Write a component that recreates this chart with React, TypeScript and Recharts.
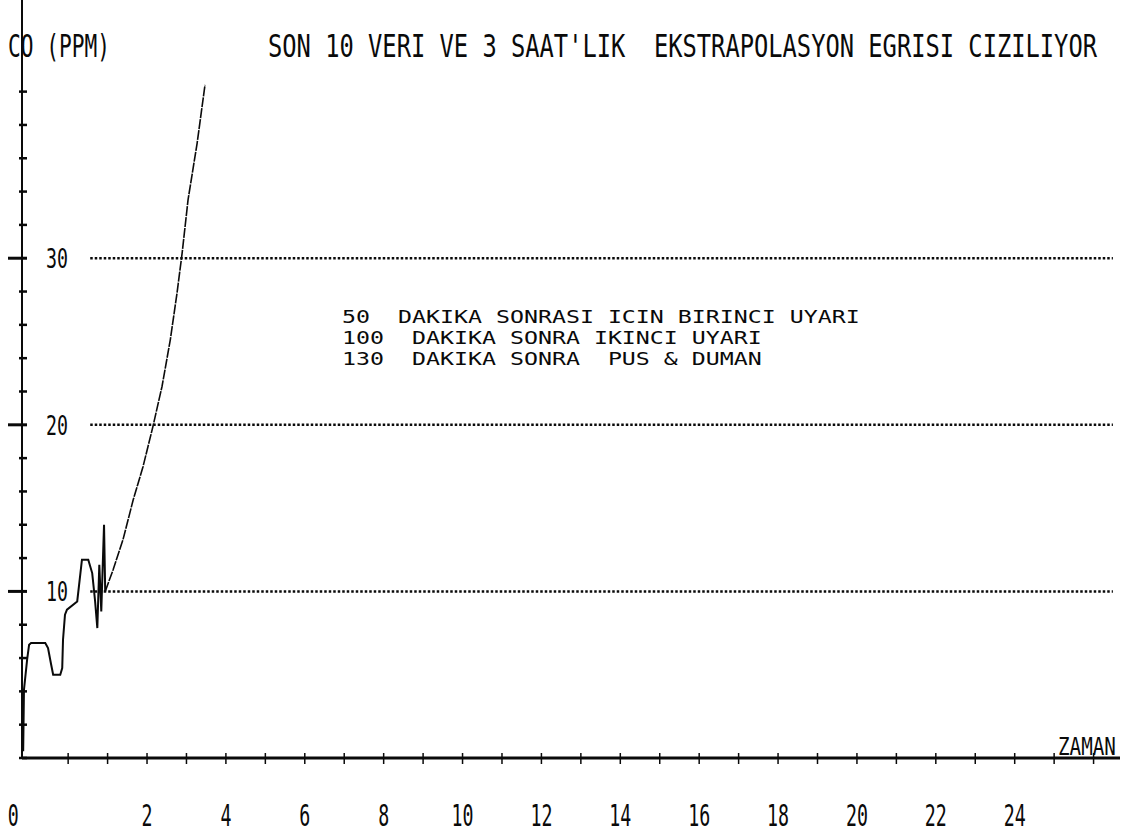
import { LineChart, Line, XAxis, YAxis, ReferenceLine } from 'recharts';

// measured CO readings (last data) - time in hours, CO in ppm
const measuredTime = [-1.14, -1.12, -1.04, -0.99, -0.94, -0.58, -0.51, -0.43, -0.38, -0.2, -0.15, -0.13, -0.08, -0.03, 0.23, 0.35, 0.51, 0.61, 0.68, 0.74, 0.79, 0.84, 0.91, 0.94];
const measuredCO = [0.4, 4.1, 5.9, 6.8, 6.9, 6.9, 6.6, 5.6, 5.0, 5.0, 5.4, 7.1, 8.6, 8.9, 9.4, 11.9, 11.9, 11.1, 9.5, 7.8, 11.6, 8.8, 14.0, 10.0];

// 3 hour extrapolation curve
const extrapTime = [0.94, 1.14, 1.39, 1.65, 1.9, 2.15, 2.38, 2.59, 2.76, 2.89, 3.04, 3.27, 3.47];
const extrapCO = [10.0, 11.3, 13.1, 15.5, 17.5, 19.9, 22.3, 25.1, 27.9, 30.3, 33.5, 36.9, 40.4];

const warnLevels = [10, 20, 30];
const yTicks = [0, 2, 4, 6, 8, 10, 12, 14, 16, 18, 20, 22, 24, 26, 28, 30, 32, 34, 36, 38, 40];
const yLabelled = [10, 20, 30];
const xTicks = [0, 1, 2, 3, 4, 5, 6, 7, 8, 9, 10, 11, 12, 13, 14, 15, 16, 17, 18, 19, 20, 21, 22, 23, 24, 25, 26];
const xLabelled = [0, 2, 4, 6, 8, 10, 12, 14, 16, 18, 20, 22, 24];

const titleText = "SON 10 VERI VE 3 SAAT'LIK  EKSTRAPOLASYON EGRISI CIZILIYOR";
const noteLines = [
  '50  DAKIKA SONRASI ICIN BIRINCI UYARI',
  '100  DAKIKA SONRA IKINCI UYARI',
  '130  DAKIKA SONRA  PUS & DUMAN',
];

const measured = measuredTime.map((x, i) => ({ x, y: measuredCO[i] }));
const extrap = extrapTime.map((x, i) => ({ x, y: extrapCO[i] }));

const FONT = "'DejaVu Sans Mono', 'Liberation Mono', monospace";
const INK = '#0a0a0a';
const CHAR_W = 0.602; // DejaVu Sans Mono advance per em

// tall narrow printer lettering: monospace sized by width, stretched vertically
const PrintText = ({ x, y, text, charW, sy, anchor = 'start' }: any) => {
  const fs = charW / CHAR_W;
  return (
    <text
      transform={`translate(${x},${y}) scale(1,${sy})`}
      fontSize={fs}
      fontFamily={FONT}
      fill={INK}
      textAnchor={anchor}
      xmlSpace="preserve"
    >
      {text}
    </text>
  );
};

const YTick = ({ x, y, payload }: any) => {
  const major = yLabelled.includes(payload.value);
  return (
    <g>
      <line x1={major ? x - 14 : x - 3} x2={x + 5} y1={y} y2={y} stroke={INK} strokeWidth={major ? 3 : 2.5} />
      {major && <PrintText x={x + 24} y={y + 10} text={String(payload.value)} charW={11} sy={1.5} />}
    </g>
  );
};

const XTick = ({ x, y, payload }: any) => {
  const v = payload.value;
  const lab = xLabelled.includes(v);
  // the printer put the "0" at the very start of the axis
  const lx = v === 0 ? x - 55 : x;
  return (
    <g>
      <line x1={x} x2={x} y1={y - 5} y2={y + 6} stroke={INK} strokeWidth={1.5} />
      {lab && <PrintText x={lx} y={y + 68} text={String(v)} charW={11} sy={1.65} anchor="middle" />}
    </g>
  );
};

export default function App() {
  return (
    <div style={{ position: 'absolute', left: 0, top: 0, width: 1125, height: 837, background: '#fff' }}>
      <LineChart width={1125} height={837} margin={{ top: 0, right: 5, bottom: 0, left: 0 }}>
        <XAxis
          type="number"
          dataKey="x"
          domain={[-1.17, 26.67]}
          allowDataOverflow
          ticks={xTicks}
          interval={0}
          height={79}
          tickSize={0}
          tickMargin={0}
          tickLine={false}
          axisLine={{ stroke: INK, strokeWidth: 3 }}
          tick={<XTick />}
        />
        <YAxis
          type="number"
          domain={[0, 45.5]}
          allowDataOverflow
          ticks={yTicks}
          interval={0}
          width={22}
          tickSize={0}
          tickMargin={0}
          tickLine={false}
          axisLine={{ stroke: INK, strokeWidth: 2 }}
          tick={<YTick />}
        />
        {warnLevels.map((lvl) => (
          <ReferenceLine
            key={lvl}
            segment={[{ x: 0.56, y: lvl }, { x: 26.49, y: lvl }]}
            stroke={INK}
            strokeWidth={2.5}
            strokeDasharray="2.5 2"
          />
        ))}
        <Line data={measured} dataKey="y" type="linear" stroke={INK} strokeWidth={2} dot={false} isAnimationActive={false} />
        <Line data={extrap} dataKey="y" type="linear" stroke={INK} strokeWidth={1.6} strokeDasharray="10 1" dot={false} isAnimationActive={false} />
      </LineChart>
      <svg width={1125} height={837} style={{ position: 'absolute', left: 0, top: 0, pointerEvents: 'none' }}>
        <PrintText x={8} y={57} text="CO (PPM)" charW={12.75} sy={1.5} />
        <PrintText x={268} y={57} text={titleText} charW={14.3} sy={1.38} />
        {noteLines.map((t, i) => (
          <PrintText key={i} x={342} y={323 + i * 21} text={t} charW={14} sy={0.78} />
        ))}
        <PrintText x={1058} y={755} text="ZAMAN" charW={11.6} sy={1.3} />
      </svg>
    </div>
  );
}
